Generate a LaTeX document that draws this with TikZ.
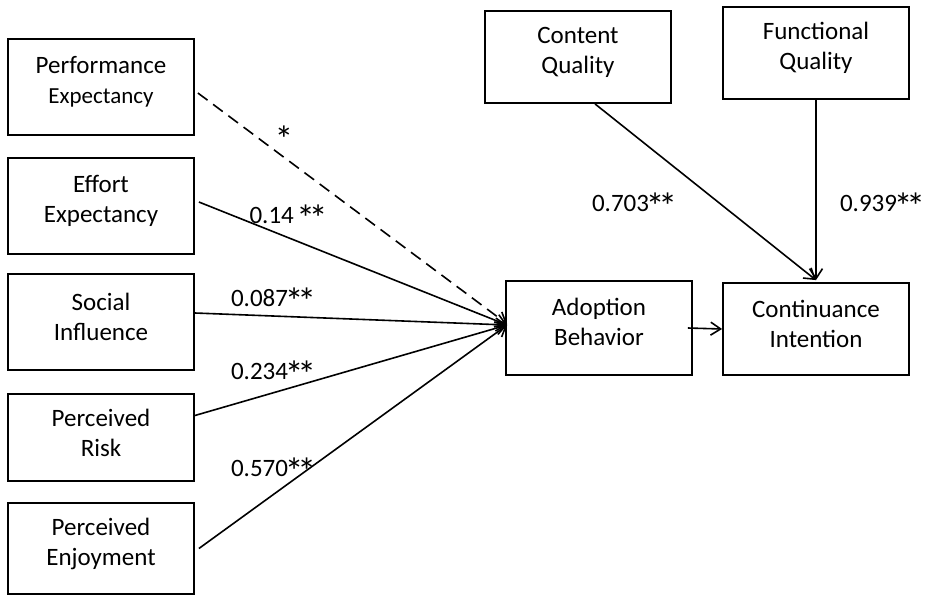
\documentclass[tikz,border=0pt]{standalone}
\usepackage{fontspec}
\usepackage{graphicx}
\setmainfont{Carlito}
\usetikzlibrary{arrows.meta}
\newcommand{\bigstar}{\makebox[0.498em]{\raisebox{-0.34em}{\scalebox{1.5}{*}}}}
\begin{document}
\begin{tikzpicture}[x=1pt,y=-1pt,
  box/.style={draw, line width=1.8pt, minimum width=186pt, inner sep=0pt},
  txt/.style={align=center, inner sep=0pt, font=\fontsize{25}{30}\selectfont},
  arr/.style={line width=1.6pt, -{Straight Barb[length=10pt,width=13pt,line width=1.6pt]}},
  lbl/.style={font=\fontsize{25}{30}\selectfont, inner sep=0pt}]
\useasboundingbox (0,0) rectangle (926,595);
% boxes
\node[box, minimum height=96pt] (pe) at (101,87) {};
\node[box, minimum height=96pt] (ee) at (101,206) {};
\node[box, minimum height=96pt] (si) at (101,322) {};
\node[box, minimum height=87pt] (pr) at (101,437.5) {};
\node[box, minimum height=91pt] (pj) at (101,548.5) {};
\node[box, minimum height=92pt] (cq) at (578,57) {};
\node[box, minimum height=92pt] (fq) at (816,53) {};
\node[box, minimum height=94pt] (ab) at (599,328) {};
\node[box, minimum height=92pt] (ci) at (816,329) {};
% box texts
\node[txt] (tpe) at ([yshift=5pt]pe.center) {Performance\\{\fontsize{23}{28}\selectfont Expectancy}};
\node[txt] (tee) at ([yshift=5pt]ee.center) {Effort\\Expectancy};
\node[txt] (tsi) at ([yshift=5pt]si.center) {Social\\Influence};
\node[txt] (tpr) at ([yshift=5pt]pr.center) {Perceived\\Risk};
\node[txt] (tpj) at ([yshift=5pt]pj.center) {Perceived\\Enjoyment};
\node[txt] (tcq) at ([yshift=5pt]cq.center) {Content\\Quality};
\node[txt] (tfq) at ([yshift=5pt]fq.center) {Functional\\Quality};
\node[txt] (tab) at ([yshift=6pt]ab.center) {Adoption\\Behavior};
\node[txt] (tci) at ([yshift=5pt]ci.center) {Continuance\\Intention};
% connectors
\draw[arr, dash pattern=on 12pt off 7pt] ([xshift=3pt,yshift=-6pt]pe.east) -- ([xshift=2pt,yshift=4pt]ab.west);
\draw[arr] ([xshift=4pt,yshift=4pt]ee.east) -- ([xshift=2pt,yshift=3pt]ab.west);
\draw[arr] ([yshift=9pt]si.east) -- ([xshift=2pt,yshift=3pt]ab.west);
\draw[arr] ([yshift=22pt]pr.east) -- ([xshift=2pt,yshift=3pt]ab.west);
\draw[arr] ([xshift=4pt]pj.east) -- ([xshift=2pt,yshift=3pt]ab.west);
\draw[arr] ([xshift=17pt]cq.south) -- ([yshift=2pt]ci.north);
\draw[arr] (fq.south) -- ([yshift=2pt]ci.north);
\draw[arr] ([xshift=-5pt]ab.east) -- (ci.west);
% labels
\node[lbl, anchor=base] (l1) at (284,144) {\bigstar};
\node[lbl, anchor=base] (l2) at (287,223) {0.14 \bigstar\bigstar};
\node[lbl, anchor=base] (l3) at (272,306) {0.087\bigstar\bigstar};
\node[lbl, anchor=base] (l4) at (272,379) {0.234\bigstar\bigstar};
\node[lbl, anchor=base] (l5) at (272,476) {0.570\bigstar\bigstar};
\node[lbl, anchor=base] (l6) at (633,211) {0.703\bigstar\bigstar};
\node[lbl, anchor=base] (l7) at (881,211) {0.939\bigstar\bigstar};
\end{tikzpicture}
\end{document}
